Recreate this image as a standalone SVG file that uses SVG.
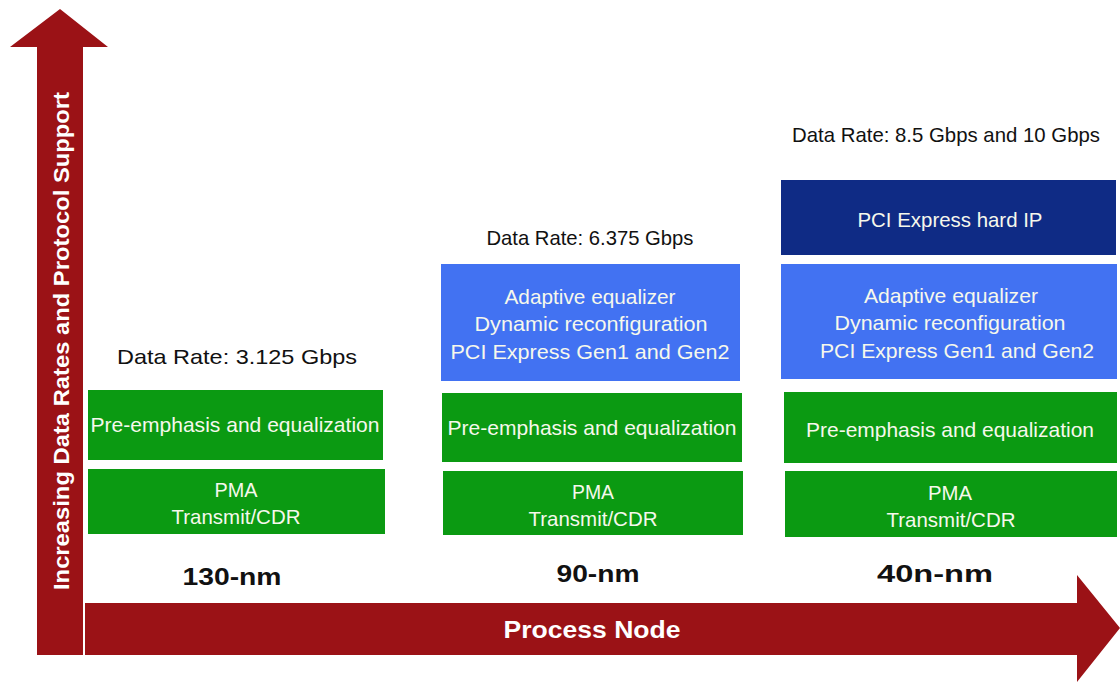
<svg xmlns="http://www.w3.org/2000/svg" width="1120" height="682" viewBox="0 0 1120 682">
<style>
.t{font-family:"Liberation Sans",Arial,sans-serif;font-size:21px;fill:#f6f8ec;text-anchor:middle}
.d{font-family:"Liberation Sans",Arial,sans-serif;font-size:21px;fill:#111;text-anchor:middle}
.n{font-family:"Liberation Sans",Arial,sans-serif;font-size:23px;font-weight:bold;fill:#111;text-anchor:middle}
.g{fill:#0b9a12}
.b{fill:#4272f2}
.k{fill:#0f2b85}
.ar{fill:#9b1216}
.at{font-family:"Liberation Sans",Arial,sans-serif;font-weight:bold;fill:#fff;text-anchor:middle}
</style>
<rect width="1120" height="682" fill="#fff"/>
<g id="axes">
<polygon id="y-axis" class="ar" points="37,655 37,47 10,47 60,9 108,47 83,47 83,655"/>
<text class="at" font-size="22" transform="translate(69,341) rotate(-90)" textLength="498" lengthAdjust="spacingAndGlyphs">Increasing Data Rates and Protocol Support</text>
<polygon id="x-axis" class="ar" points="85,603 1077,603 1077,575 1120,628 1077,682 1077,655 85,655"/>
<text class="at" x="592" y="638" font-size="24" textLength="177" lengthAdjust="spacingAndGlyphs">Process Node</text>
</g>
<g id="col130">
<text class="d" x="237" y="364" font-size="22" textLength="240" lengthAdjust="spacingAndGlyphs">Data Rate: 3.125 Gbps</text>
<g id="c1-pre"><rect class="g" x="88" y="390" width="295" height="70"/><text class="t" x="235" y="432" textLength="289" lengthAdjust="spacingAndGlyphs">Pre-emphasis and equalization</text></g>
<g id="c1-pma"><rect class="g" x="88" y="469" width="297" height="65"/><text class="t" x="236" y="497" textLength="43" lengthAdjust="spacingAndGlyphs">PMA</text><text class="t" x="236" y="524" textLength="129" lengthAdjust="spacingAndGlyphs">Transmit/CDR</text></g>
<text class="n" x="232" y="585" textLength="99" lengthAdjust="spacingAndGlyphs">130-nm</text>
</g>
<g id="col90">
<text class="d" x="590" y="245" textLength="207" lengthAdjust="spacingAndGlyphs">Data Rate: 6.375 Gbps</text>
<g id="c2-adv"><rect class="b" x="441" y="264" width="299" height="117"/><text class="t" x="590" y="304" textLength="171" lengthAdjust="spacingAndGlyphs">Adaptive equalizer</text><text class="t" x="591" y="331" textLength="233" lengthAdjust="spacingAndGlyphs">Dynamic reconfiguration</text><text class="t" x="590" y="359" textLength="279" lengthAdjust="spacingAndGlyphs">PCI Express Gen1 and Gen2</text></g>
<g id="c2-pre"><rect class="g" x="442" y="393" width="300" height="69"/><text class="t" x="592" y="435" textLength="289" lengthAdjust="spacingAndGlyphs">Pre-emphasis and equalization</text></g>
<g id="c2-pma"><rect class="g" x="443" y="471" width="300" height="64"/><text class="t" x="593" y="499" textLength="42" lengthAdjust="spacingAndGlyphs">PMA</text><text class="t" x="593" y="526" textLength="129" lengthAdjust="spacingAndGlyphs">Transmit/CDR</text></g>
<text class="n" x="598" y="582" textLength="83" lengthAdjust="spacingAndGlyphs">90-nm</text>
</g>
<g id="col40">
<text class="d" x="946" y="142" textLength="308" lengthAdjust="spacingAndGlyphs">Data Rate: 8.5 Gbps and 10 Gbps</text>
<g id="c3-hip"><rect class="k" x="781" y="180" width="335" height="75"/><text class="t" x="950" y="227" textLength="185" lengthAdjust="spacingAndGlyphs">PCI Express hard IP</text></g>
<g id="c3-adv"><rect class="b" x="781" y="264" width="336" height="115"/><text class="t" x="951" y="303" textLength="174" lengthAdjust="spacingAndGlyphs">Adaptive equalizer</text><text class="t" x="950" y="330" textLength="231" lengthAdjust="spacingAndGlyphs">Dynamic reconfiguration</text><text class="t" x="957" y="358" textLength="274" lengthAdjust="spacingAndGlyphs">PCI Express Gen1 and Gen2</text></g>
<g id="c3-pre"><rect class="g" x="784" y="392" width="333" height="71"/><text class="t" x="950" y="437" textLength="288" lengthAdjust="spacingAndGlyphs">Pre-emphasis and equalization</text></g>
<g id="c3-pma"><rect class="g" x="785" y="471" width="332" height="66"/><text class="t" x="950" y="500" textLength="44" lengthAdjust="spacingAndGlyphs">PMA</text><text class="t" x="951" y="527" textLength="129" lengthAdjust="spacingAndGlyphs">Transmit/CDR</text></g>
<text class="n" x="935" y="582" textLength="116" lengthAdjust="spacingAndGlyphs">40n-nm</text>
</g>
</svg>
